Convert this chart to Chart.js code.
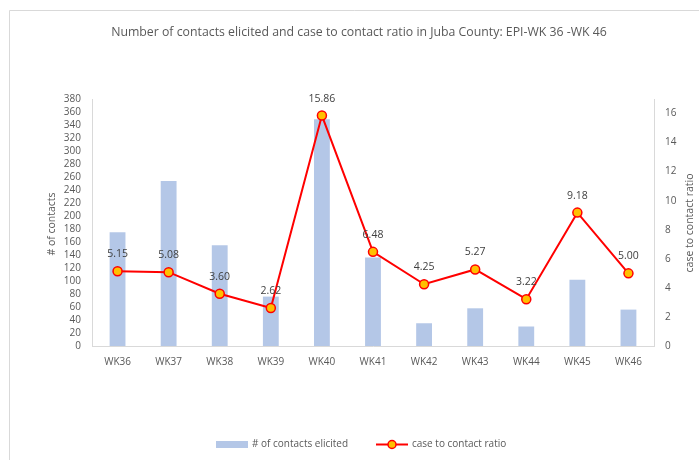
<!DOCTYPE html>
<html><head><meta charset="utf-8">
<script src="https://cdn.jsdelivr.net/npm/chart.js@4"></script>
<style>html,body{margin:0;padding:0;background:#fff;}canvas{display:block;}</style>
</head><body>
<canvas id="c" width="699" height="460"></canvas>
<script>
const categories = ['WK36','WK37','WK38','WK39','WK40','WK41','WK42','WK43','WK44','WK45','WK46'];
const contactsElicited = [175, 254, 155, 76, 349, 136, 35, 58, 30, 102, 56];
const caseToContactRatio = [5.15, 5.08, 3.60, 2.62, 15.86, 6.48, 4.25, 5.27, 3.22, 9.18, 5.00];
const leftTicksMax = 380;
const rightTicksMax = 17;

const FONT = '"Open Sans", "Liberation Sans", sans-serif';
const TXT = '#595959';
const AX = '#d9d9d9';

const deco = {
  id: 'deco',
  beforeDraw(chart) {
    const ctx = chart.ctx;
    ctx.save();
    ctx.fillStyle = '#fff';
    ctx.fillRect(0, 0, chart.width, chart.height);
    ctx.strokeStyle = AX;
    ctx.lineWidth = 1;
    ctx.beginPath();
    ctx.moveTo(9.5, chart.height);
    ctx.lineTo(9.5, 10.5);
    ctx.lineTo(chart.width, 10.5);
    ctx.stroke();
    ctx.restore();
  },
  afterDraw(chart) {
    const ctx = chart.ctx;
    ctx.save();
    ctx.fillStyle = TXT;
    ctx.font = '12.3px ' + FONT;
    ctx.textAlign = 'center';
    ctx.textBaseline = 'middle';
    ctx.fillText('Number of contacts elicited and case to contact ratio in Juba County: EPI-WK 36 -WK 46', 359, 32);
    ctx.font = '10.5px ' + FONT;
    ctx.save();
    ctx.translate(52, 224);
    ctx.rotate(-Math.PI / 2);
    ctx.fillText('# of contacts', 0, 0);
    ctx.restore();
    ctx.save();
    ctx.translate(690, 223);
    ctx.rotate(-Math.PI / 2);
    ctx.fillText('case to contact ratio', 0, 0);
    ctx.restore();
    const meta = chart.getDatasetMeta(1);
    ctx.fillStyle = '#404040';
    ctx.font = '10.5px ' + FONT;
    meta.data.forEach((pt, i) => {
      ctx.fillText(caseToContactRatio[i].toFixed(2), pt.x, pt.y - 17);
    });
    ctx.fillStyle = '#b4c7e7';
    ctx.fillRect(216, 441, 32, 7);
    ctx.fillStyle = TXT;
    ctx.textAlign = 'left';
    ctx.font = '10px ' + FONT;
    ctx.fillText('# of contacts elicited', 252, 444.5);
    ctx.strokeStyle = '#ff0000';
    ctx.lineWidth = 2;
    ctx.beginPath();
    ctx.moveTo(376, 444.5);
    ctx.lineTo(408, 444.5);
    ctx.stroke();
    ctx.beginPath();
    ctx.arc(392, 444.5, 4, 0, Math.PI * 2);
    ctx.fillStyle = '#ffc000';
    ctx.fill();
    ctx.lineWidth = 1.5;
    ctx.stroke();
    ctx.fillStyle = TXT;
    ctx.fillText('case to contact ratio', 412, 444.5);
    ctx.restore();
  }
};

new Chart(document.getElementById('c'), {
  data: {
    labels: categories,
    datasets: [
      {
        type: 'bar',
        label: '# of contacts elicited',
        data: contactsElicited,
        backgroundColor: '#b4c7e7',
        yAxisID: 'y',
        barPercentage: 0.31,
        categoryPercentage: 1,
        order: 2
      },
      {
        type: 'line',
        label: 'case to contact ratio',
        data: caseToContactRatio,
        borderColor: '#ff0000',
        borderWidth: 2,
        pointRadius: 4.5,
        pointBackgroundColor: '#ffc000',
        pointBorderColor: '#ff0000',
        pointBorderWidth: 1.5,
        tension: 0,
        yAxisID: 'y1',
        order: 1
      }
    ]
  },
  options: {
    responsive: false,
    devicePixelRatio: 1,
    animation: false,
    layout: { padding: { top: 99, left: 0, right: 0, bottom: 0 } },
    plugins: { legend: { display: false }, title: { display: false }, tooltip: { enabled: false } },
    scales: {
      x: {
        offset: true,
        grid: { display: false, drawTicks: false },
        border: { display: true, color: AX, width: 1 },
        ticks: { color: TXT, font: { family: FONT, size: 10 }, padding: 10, maxRotation: 0, autoSkip: false },
        afterFit(s) { s.height = 114; }
      },
      y: {
        position: 'left',
        min: 0, max: leftTicksMax,
        grid: { display: false, drawTicks: false },
        border: { display: true, color: AX, width: 1 },
        ticks: { stepSize: 20, color: TXT, font: { family: FONT, size: 10 }, padding: 11, autoSkip: false },
        afterFit(s) { s.width = 92; }
      },
      y1: {
        position: 'right',
        min: 0, max: rightTicksMax,
        grid: { display: false, drawTicks: false },
        border: { display: true, color: AX, width: 1 },
        ticks: { stepSize: 2, color: TXT, font: { family: FONT, size: 10 }, padding: 11, autoSkip: false },
        afterBuildTicks(s) { s.ticks = s.ticks.filter(t => t.value % 2 === 0); },
        afterFit(s) { s.width = 45; }
      }
    }
  },
  plugins: [deco]
});
</script>
</body></html>
